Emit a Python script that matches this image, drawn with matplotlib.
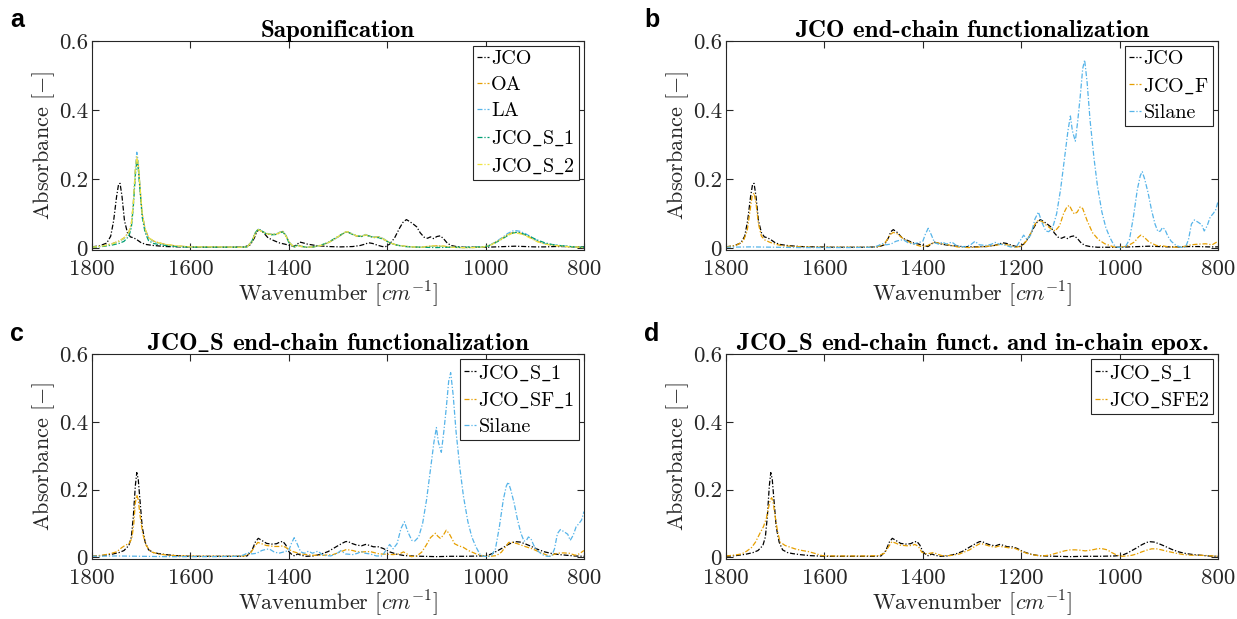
import matplotlib
matplotlib.use("Agg")
import matplotlib.pyplot as plt

# ---------------- data ----------------
JCO_wn = [1800,1785,1770,1762,1756,1750,1746,1743,1739,1734,1728,1722,1715,1708,1700,1690,1675,1650,1620,1580,
          1520,1490,1478,1470,1465,1460,1452,1442,1430,1418,1408,1398,1390,1384,1378,1372,1362,1345,1320,1295,
          1270,1255,1245,1238,1230,1220,1210,1203,1195,1185,1175,1168,1161,1155,1147,1140,1133,1125,1118,1112,
          1106,1099,1092,1085,1078,1070,1060,1045,1020,1000,980,960,940,920,900,880,860,840,820,800]
JCO_abs = [0.004,0.007,0.015,0.035,0.08,0.15,0.185,0.188,0.15,0.08,
           0.045,0.033,0.03,0.024,0.016,0.011,0.008,0.005,0.004,0.003,
           0.003,0.004,0.01,0.03,0.048,0.054,0.046,0.03,0.022,0.015,
           0.012,0.008,0.005,0.01,0.018,0.016,0.012,0.008,0.005,0.004,
           0.005,0.008,0.012,0.016,0.014,0.009,0.005,0.005,0.012,0.03,
           0.058,0.075,0.083,0.078,0.07,0.062,0.045,0.032,0.029,0.033,
           0.028,0.034,0.036,0.027,0.015,0.008,0.005,0.003,0.003,0.003,
           0.004,0.005,0.006,0.005,0.004,0.004,0.005,0.005,0.004,0.004]

FA_wn = [1800,1780,1760,1745,1735,1725,1720,1716,1712,1709,1706,1702,1698,1692,1685,1675,1665,1650,1630,1600,
         1550,1500,1485,1475,1468,1462,1455,1445,1435,1425,1418,1412,1406,1400,1393,1388,1382,1375,1365,1350,
         1335,1320,1305,1292,1285,1280,1272,1262,1252,1244,1238,1228,1218,1208,1195,1180,1165,1150,1130,1115,
         1100,1085,1070,1050,1030,1010,1000,990,978,965,955,945,938,930,920,910,895,880,865,850,835,820,800]
OA_abs = [0.003,0.006,0.013,0.021,0.03,0.047,0.072,0.13,0.22,0.262,
          0.24,0.165,0.1,0.055,0.03,0.021,0.016,0.011,0.007,0.004,
          0.004,0.003,0.004,0.02,0.044,0.054,0.049,0.042,0.04,0.041,
          0.046,0.049,0.037,0.02,0.008,0.004,0.009,0.006,0.003,0.004,
          0.008,0.016,0.028,0.04,0.046,0.047,0.041,0.035,0.034,0.039,
          0.036,0.032,0.033,0.027,0.016,0.009,0.006,0.004,0.003,0.006,
          0.007,0.006,0.003,0.002,0.002,0.003,0.005,0.01,0.019,0.03,
          0.04,0.045,0.046,0.044,0.039,0.032,0.02,0.013,0.009,0.007,
          0.005,0.004,0.002]
LA_abs = [0.003,0.006,0.012,0.02,0.028,0.045,0.07,0.13,0.23,0.278,
          0.25,0.17,0.1,0.055,0.03,0.02,0.015,0.01,0.006,0.004,
          0.004,0.003,0.004,0.02,0.045,0.055,0.05,0.043,0.041,0.042,
          0.047,0.05,0.038,0.02,0.008,0.004,0.008,0.005,0.003,0.004,
          0.008,0.016,0.028,0.04,0.047,0.048,0.042,0.036,0.035,0.04,
          0.037,0.033,0.034,0.028,0.016,0.009,0.006,0.004,0.003,0.005,
          0.006,0.005,0.003,0.002,0.002,0.003,0.005,0.01,0.02,0.032,
          0.043,0.05,0.051,0.049,0.043,0.035,0.022,0.014,0.01,0.008,
          0.006,0.004,0.002]
S2_abs = [0.003,0.006,0.012,0.02,0.029,0.046,0.07,0.13,0.225,0.265,
          0.245,0.17,0.1,0.056,0.031,0.021,0.016,0.011,0.007,0.004,
          0.004,0.003,0.004,0.019,0.044,0.054,0.049,0.042,0.04,0.041,
          0.046,0.048,0.036,0.019,0.008,0.004,0.008,0.005,0.003,0.004,
          0.008,0.016,0.029,0.041,0.047,0.048,0.042,0.036,0.035,0.039,
          0.036,0.032,0.033,0.027,0.016,0.009,0.006,0.004,0.003,0.006,
          0.007,0.006,0.003,0.002,0.002,0.003,0.005,0.009,0.018,0.029,
          0.039,0.043,0.044,0.042,0.037,0.03,0.019,0.012,0.009,0.007,
          0.005,0.004,0.002]

S1_wn = [1800,1780,1760,1745,1735,1725,1720,1716,1712,1709,1706,1702,1698,1692,1685,1675,1665,1650,1630,1600,
         1550,1500,1485,1475,1468,1462,1455,1445,1435,1425,1418,1412,1406,1400,1393,1388,1382,1375,1365,1350,
         1335,1320,1305,1292,1285,1280,1272,1262,1252,1244,1238,1228,1218,1208,1195,1180,1165,1150,1130,1100,
         1070,1040,1010,995,985,975,965,955,945,938,930,920,910,895,880,865,850,835,820,800]
S1_abs = [0.003,0.005,0.009,0.014,0.02,0.035,0.06,0.12,0.21,0.25,
          0.23,0.16,0.09,0.045,0.022,0.014,0.011,0.008,0.005,0.003,
          0.003,0.003,0.004,0.02,0.045,0.056,0.05,0.041,0.039,0.04,
          0.045,0.047,0.036,0.017,0.007,0.004,0.01,0.006,0.003,0.004,
          0.009,0.017,0.03,0.041,0.046,0.047,0.041,0.036,0.034,0.038,
          0.036,0.031,0.031,0.026,0.016,0.009,0.005,0.004,0.003,0.002,
          0.003,0.003,0.004,0.006,0.012,0.02,0.028,0.037,0.044,0.046,
          0.045,0.04,0.034,0.024,0.016,0.011,0.008,0.006,0.004,0.003]

JCOF_wn = [1800,1780,1765,1757,1751,1747,1743,1739,1734,1728,1721,1712,1700,1685,1660,1620,1560,1500,1482,1472,
           1466,1460,1452,1440,1429,1415,1402,1390,1382,1375,1365,1348,1330,1307,1280,1255,1239,1228,1212,1200,
           1190,1180,1172,1165,1158,1150,1140,1131,1122,1114,1107,1102,1097,1092,1086,1080,1075,1066,1055,1043,
           1030,1012,1000,985,970,962,957,950,940,925,913,900,885,870,855,840,825,812,800]
JCOF_abs = [0.004,0.008,0.02,0.05,0.11,0.15,0.16,0.13,0.07,0.035,
            0.024,0.018,0.012,0.007,0.005,0.003,0.003,0.003,0.008,0.025,
            0.04,0.046,0.042,0.028,0.019,0.01,0.005,0.008,0.014,0.017,
            0.014,0.01,0.004,0.002,0.004,0.008,0.012,0.01,0.003,0.006,
            0.02,0.045,0.07,0.081,0.078,0.068,0.057,0.05,0.065,0.1,
            0.12,0.124,0.11,0.099,0.105,0.12,0.115,0.08,0.045,0.025,
            0.013,0.004,0.003,0.006,0.018,0.032,0.038,0.032,0.018,0.008,
            0.007,0.004,0.003,0.005,0.01,0.012,0.013,0.01,0.02]

SIL_wn = [1800,1750,1700,1650,1600,1550,1500,1490,1483,1475,
          1465,1455,1445,1439,1430,1420,1410,1400,1395,1389,
          1383,1376,1368,1360,1352,1341,1330,1315,1303,1294,
          1285,1270,1260,1253,1245,1235,1222,1210,1203,1195,
          1188,1180,1172,1165,1158,1150,1144,1136,1128,1120,
          1112,1105,1100,1096,1090,1085,1080,1075,1071,1066,
          1060,1052,1045,1036,1028,1020,1012,1004,995,988,
          980,972,964,958,954,949,942,935,928,922,
          917,913,908,902,895,885,875,866,860,854,
          848,840,833,828,822,816,810,805,800]
SIL_abs = [0.003,0.004,0.003,0.002,0.002,0.002,0.003,0.008,0.014,0.01,
           0.012,0.02,0.024,0.024,0.016,0.012,0.016,0.02,0.04,0.058,
           0.04,0.016,0.012,0.018,0.012,0.018,0.006,0.004,0.01,0.02,
           0.01,0.008,0.012,0.017,0.012,0.01,0.004,0.004,0.02,0.038,
           0.025,0.04,0.085,0.105,0.075,0.05,0.048,0.06,0.1,0.17,
           0.26,0.34,0.383,0.34,0.31,0.37,0.44,0.52,0.545,0.48,
           0.37,0.26,0.18,0.105,0.06,0.032,0.01,0.003,0.002,0.005,
           0.025,0.09,0.17,0.21,0.222,0.2,0.16,0.11,0.07,0.048,
           0.05,0.06,0.055,0.035,0.02,0.008,0.003,0.003,0.025,0.07,
           0.082,0.075,0.068,0.05,0.065,0.09,0.1,0.11,0.135]

SF1_wn = [1800,1775,1760,1750,1740,1732,1725,1719,1715,1712,1709,1706,1702,1697,1690,1680,1665,1650,1620,1580,
          1520,1490,1478,1470,1463,1455,1446,1430,1418,1412,1405,1392,1375,1351,1330,1310,1295,1283,1270,1260,
          1249,1235,1216,1200,1188,1175,1167,1160,1151,1140,1130,1121,1112,1102,1097,1092,1086,1080,1074,1063,
          1055,1046,1035,1019,1005,990,978,968,960,953,945,935,920,905,890,878,870,862,854,842,830,818,810,800]
SF1_abs = [0.003,0.007,0.012,0.016,0.028,0.036,0.04,0.055,0.1,0.16,
           0.184,0.17,0.12,0.07,0.035,0.016,0.01,0.007,0.004,0.003,
           0.003,0.004,0.012,0.03,0.044,0.04,0.035,0.032,0.032,0.034,
           0.028,0.017,0.01,0.006,0.006,0.008,0.016,0.023,0.02,0.016,
           0.016,0.017,0.01,0.009,0.008,0.01,0.016,0.01,0.002,0.004,
           0.015,0.035,0.058,0.071,0.062,0.056,0.065,0.08,0.07,0.04,
           0.034,0.03,0.02,0.01,0.004,0.003,0.005,0.015,0.03,0.044,
           0.044,0.04,0.032,0.025,0.015,0.008,0.003,0.008,0.012,0.013,
           0.012,0.006,0.01,0.02]

SFE2_wn = [1800,1780,1768,1758,1748,1740,1731,1724,1718,1713,1710,1707,1704,1700,1695,1690,1680,1670,1660,1645,
           1633,1618,1605,1580,1520,1490,1478,1470,1463,1455,1446,1432,1422,1416,1409,1402,1392,1385,1378,1370,
           1361,1345,1325,1305,1292,1283,1275,1262,1252,1246,1238,1225,1212,1200,1185,1170,1158,1145,1134,1124,
           1112,1100,1090,1080,1070,1060,1052,1043,1034,1025,1016,1005,995,985,975,965,955,945,935,925,
           915,901,885,870,853,835,820,800]
SFE2_abs = [0.004,0.007,0.01,0.018,0.029,0.045,0.071,0.09,0.115,0.15,
            0.17,0.176,0.16,0.12,0.075,0.045,0.035,0.03,0.025,0.02,
            0.017,0.011,0.005,0.004,0.004,0.005,0.012,0.03,0.046,0.042,
            0.036,0.034,0.035,0.038,0.032,0.015,0.01,0.012,0.014,0.009,
            0.005,0.005,0.01,0.022,0.034,0.041,0.038,0.032,0.03,0.033,
            0.031,0.028,0.026,0.018,0.01,0.006,0.004,0.006,0.01,0.014,
            0.019,0.022,0.022,0.021,0.019,0.021,0.023,0.026,0.025,0.022,
            0.014,0.006,0.003,0.004,0.006,0.01,0.016,0.021,0.025,0.025,
            0.022,0.017,0.012,0.008,0.006,0.006,0.005,0.003]

titles = ["Saponification", "JCO end-chain functionalization",
          r"JCO$\_$S end-chain functionalization", r"JCO$\_$S end-chain funct. and in-chain epox."]
panel_letters = ["a", "b", "c", "d"]
x_ticks = [1800, 1600, 1400, 1200, 1000, 800]
y_ticks = [0, 0.2, 0.4, 0.6]
y_ticklabels = ["0", "0.2", "0.4", "0.6"]

C_BLACK = "#000000"
C_ORANGE = "#E69F00"
C_BLUE = "#56B4E9"
C_GREEN = "#009E73"
C_YELLOW = "#F0E442"

panels = [
    [(JCO_wn, JCO_abs, C_BLACK, "JCO"),
     (FA_wn, OA_abs, C_ORANGE, "OA"),
     (FA_wn, LA_abs, C_BLUE, "LA"),
     (S1_wn, S1_abs, C_GREEN, r"JCO$\_$S$\_$1"),
     (FA_wn, S2_abs, C_YELLOW, r"JCO$\_$S$\_$2")],
    [(JCO_wn, JCO_abs, C_BLACK, "JCO"),
     (JCOF_wn, JCOF_abs, C_ORANGE, r"JCO$\_$F"),
     (SIL_wn, SIL_abs, C_BLUE, "Silane")],
    [(S1_wn, S1_abs, C_BLACK, r"JCO$\_$S$\_$1"),
     (SF1_wn, SF1_abs, C_ORANGE, r"JCO$\_$SF$\_$1"),
     (SIL_wn, SIL_abs, C_BLUE, "Silane")],
    [(S1_wn, S1_abs, C_BLACK, r"JCO$\_$S$\_$1"),
     (SFE2_wn, SFE2_abs, C_ORANGE, r"JCO$\_$SFE2")],
]

# ---------------- styling ----------------
plt.rcParams["font.family"] = "cmr10"
plt.rcParams["mathtext.fontset"] = "cm"
plt.rcParams["axes.unicode_minus"] = False
plt.rcParams["axes.formatter.use_mathtext"] = True

W, H = 1237, 619
fig = plt.figure(figsize=(W / 100, H / 100), dpi=100)

# axes boxes in pixels: left, right, top, bottom
boxes = [(92, 584, 41, 250), (726, 1218, 41, 250),
         (92, 584, 354, 559), (726, 1218, 354, 559)]
letter_pos = [(10, 8), (644, 8), (10, 322), (644, 322)]

ls = (0, (4, 1.5, 1, 1.5))
AX_COLOR = "#262626"

for i, (box, series) in enumerate(zip(boxes, panels)):
    l, r, t, b = box
    ax = fig.add_axes([l / W, 1 - b / H, (r - l) / W, (b - t) / H])
    for wn, ab, col, lab in series:
        ax.plot(wn, ab, color=col, lw=0.9, linestyle=ls, label=lab)
    ax.set_xlim(1800, 800)
    ax.set_ylim(-0.005, 0.6)
    ax.set_xticks(x_ticks)
    ax.set_xticklabels([str(v) for v in x_ticks])
    ax.set_yticks(y_ticks)
    ax.set_yticklabels(y_ticklabels)
    ax.tick_params(direction="in", top=True, right=True, length=5, width=0.8,
                   labelsize=16.5, colors=AX_COLOR)
    ax.tick_params(axis="x", pad=7)
    ax.tick_params(axis="y", pad=3)
    for sp in ax.spines.values():
        sp.set_linewidth(0.8)
        sp.set_color(AX_COLOR)
    ax.set_xlabel(r"Wavenumber $[cm^{-1}]$", fontsize=16, color=AX_COLOR, labelpad=0)
    ax.set_ylabel(r"Absorbance $[-]$", fontsize=16, color=AX_COLOR, labelpad=1)
    ax.set_title(titles[i], fontsize=18, fontfamily="cmb10", color="black", pad=3)
    leg = ax.legend(loc="upper right", fontsize=14.5, frameon=True, fancybox=False,
                    edgecolor=AX_COLOR, framealpha=1, borderpad=0.2, labelspacing=0.4,
                    handlelength=0.6, handletextpad=0.1, borderaxespad=0.25)
    leg.get_frame().set_linewidth(0.8)
    fig.text(letter_pos[i][0] / W, 1 - letter_pos[i][1] / H, panel_letters[i],
             fontsize=18, fontweight="bold", fontfamily="Liberation Sans",
             ha="left", va="top")

fig.savefig("out.png", dpi=100)
